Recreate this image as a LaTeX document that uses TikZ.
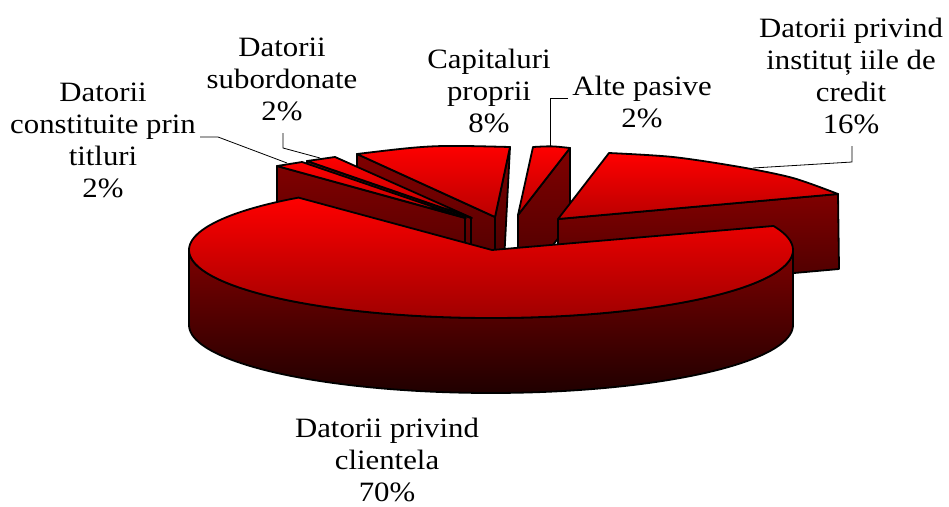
\documentclass[tikz,border=0pt]{standalone}
\usepackage{fontspec}
\setmainfont{Liberation Serif}[FakeStretch=1.1]
\definecolor{topdk}{RGB}{160,0,0}
\definecolor{smalltopdk}{RGB}{185,0,0}
\definecolor{sidetop}{RGB}{128,0,0}
\definecolor{sidebot}{RGB}{70,0,0}
\definecolor{walltop}{RGB}{125,0,0}
\definecolor{wallbot}{RGB}{32,0,0}
\begin{document}
\begin{tikzpicture}[x=1pt,y=-1pt,
  edge/.style={draw=black,line width=1.8pt,line join=round},
  maintop/.style={edge,top color=red,bottom color=topdk},
  smalltop/.style={edge,top color=red,bottom color=smalltopdk},
  sideface/.style={edge,top color=sidetop,bottom color=sidebot},
  mainwall/.style={edge,top color=walltop,bottom color=wallbot},
  leader/.style={draw=black,line width=0.8pt},
  lbl/.style={font=\fontsize{28}{32}\selectfont,align=center,inner sep=0pt}]
\useasboundingbox (0,0) rectangle (949,506);

% ---- Alte pasive (2%)
\path[sideface] (570,148) -- (518,215) -- (518,290) -- (570,223) -- cycle;
\path[smalltop] (533,147) .. controls (552,146) .. (570,148) -- (518,215) -- cycle;

% ---- Capitaluri proprii (8%)
\path[sideface] (357,154) -- (495,217) -- (495,292) -- (357,229) -- cycle;
\path[sideface] (510,147) -- (495,217) -- (495,266) -- (504,262) -- cycle;
\path[smalltop] (357,154) .. controls (432,145) .. (510,147) -- (495,217) -- cycle;

% ---- Datorii subordonate (2%)
\path[sideface] (307,161) -- (471,218) -- (471,293) -- (307,236) -- cycle;
\path[smalltop] (307,161) -- (335,157) -- (472,218) -- cycle;

% ---- Datorii constituite prin titluri (2%)
\path[sideface] (277,166) -- (465,218) -- (465,293) -- (277,241) -- cycle;
\path[smalltop] (277,166) -- (302,162) -- (466,218) -- cycle;

% ---- Datorii privind institutiile de credit (16%)
\path[sideface] (558,219) -- (838,194) -- (839,269) -- (558,294) -- cycle;
\path[smalltop] (558,219) -- plot[smooth] coordinates {(609,153) (673,157) (740,167) (793,178) (838,194)} -- cycle;

% ---- Datorii privind clientela (70%)
\path[mainwall] plot[domain=0:180,samples=90] ({491+302*cos(\x)},{250+68*sin(\x)})
   -- plot[domain=180:0,samples=90] ({491+302*cos(\x)},{325+68*sin(\x)}) -- cycle;
\path[maintop] (492,250) -- plot[domain=339.3:590.4,samples=150] ({491+302*cos(\x)},{250+68*sin(\x)}) -- cycle;

% ---- labels
\node[lbl] (Lcon) at (103,140.5) {Datorii\\constituite prin\\titluri\\2\%};
\node[lbl] (Lsub) at (282,79) {Datorii\\subordonate\\2\%};
\node[lbl] (Lcap) at (489,90.5) {Capitaluri\\proprii\\8\%};
\node[lbl] (Lalt) at (642,101.5) {Alte pasive\\2\%};
\node[lbl] (Lins) at (851,76) {Datorii privind\\instituț iile de\\credit\\16\%};
\node[lbl,text depth=0pt,anchor=south] (Lcli) at (387,502) {Datorii privind\\clientela\\70\%};

% ---- leader lines
\coordinate (c1) at (200,137); \coordinate (c2) at (218,137); \coordinate (c3) at (287,163);
\coordinate (s1) at (283,133); \coordinate (s2) at (283,148); \coordinate (s3) at (320,158);
\coordinate (a1) at (568,98);  \coordinate (a2) at (550,98);  \coordinate (a3) at (550,147);
\coordinate (i1) at (852,146); \coordinate (i2) at (852,162); \coordinate (i3) at (753,168);
\draw[leader] (c1) -- (c2) -- (c3);
\draw[leader] (s1) -- (s2) -- (s3);
\draw[leader] (a1) -- (a2) -- (a3);
\draw[leader] (i1) -- (i2) -- (i3);
\end{tikzpicture}
\end{document}
